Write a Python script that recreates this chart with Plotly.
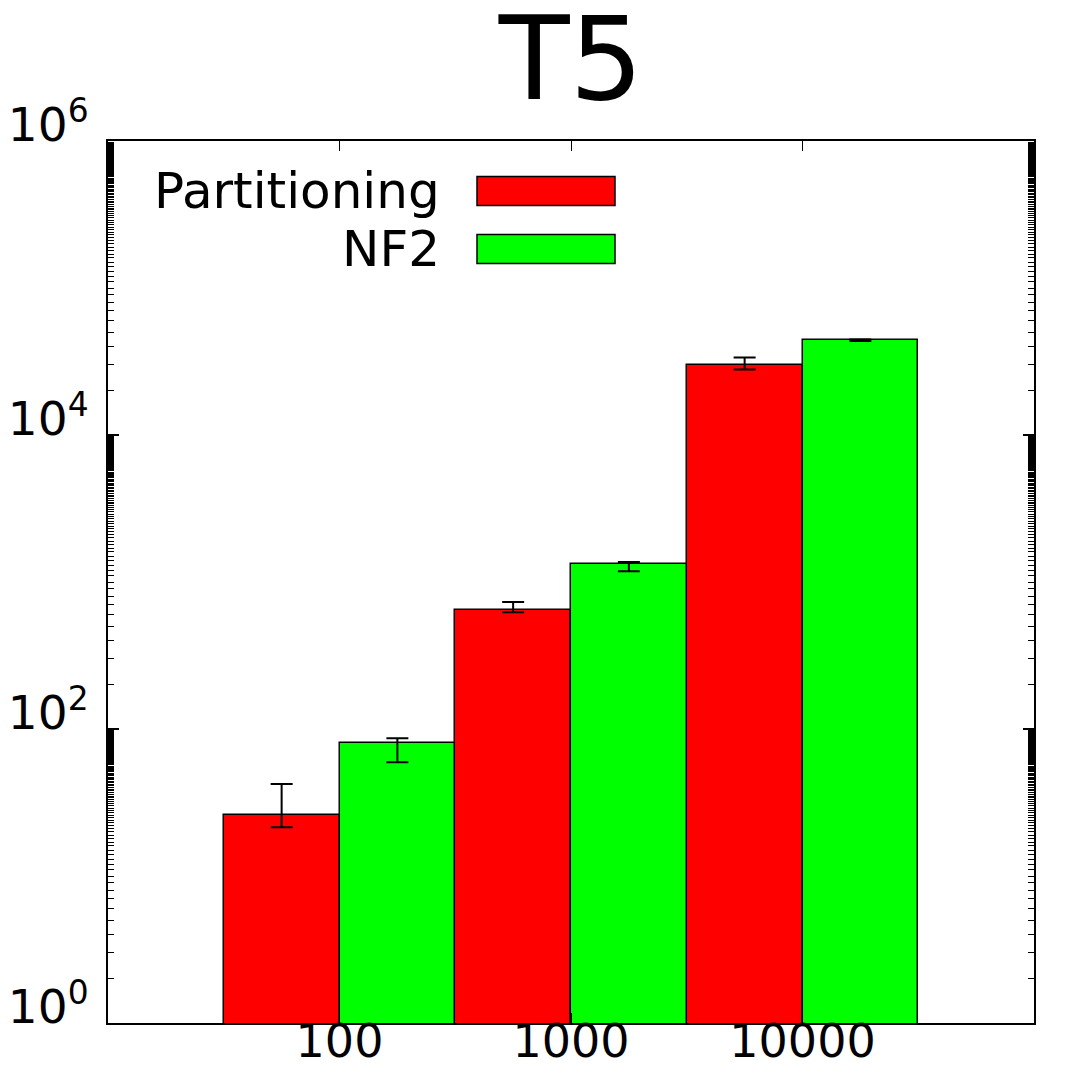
import plotly.graph_objects as go

# data
sizes = ["100", "1000", "10000"]
series_names = ["Partitioning", "NF2"]
series_colors = ["#FF0000", "#00FF00"]

part_mean = [25.9, 642, 29740]
part_high = [42.2, 731, 33700]
part_low = [21.5, 622, 27920]

nf2_mean = [80.0, 1319, 43970]
nf2_high = [86.6, 1368, 44600]
nf2_low = [59.5, 1182, 43600]

ytick_vals = [1, 100, 10000, 1000000]
ytick_text = ["10<sup>0</sup>", "10<sup>2</sup>", "10<sup>4</sup>", "10<sup>6</sup>"]

FONT = "DejaVu Sans"

# gnuplot-style minor tics: k * 100^n
minor_vals = [k * 100 ** n for n in range(3) for k in range(2, 100)]

means = [part_mean, nf2_mean]
highs = [part_high, nf2_high]
lows = [part_low, nf2_low]

fig = go.Figure()
for name, color, m, hi, lo in zip(series_names, series_colors, means, highs, lows):
    fig.add_trace(go.Bar(
        x=sizes, y=m, name=name,
        marker=dict(color=color, line=dict(color="black", width=1.5)),
        error_y=dict(type="data", symmetric=False,
                     array=[h - v for h, v in zip(hi, m)],
                     arrayminus=[v - l for l, v in zip(lo, m)],
                     color="black", thickness=2, width=11),
        showlegend=False,
    ))

# page body has an 8px margin, so the figure is 1072 and margins are shifted
W = H = 1072
OFF = 8
L, R, T, B = 108 - OFF, W + OFF - 1034, 141 - OFF, H + OFF - 1023
pw, ph = W - L - R, H - T - B

def px(x):
    return (x - OFF - L) / pw

def py(y):
    return (H + OFF - B - y) / ph

# legend drawn by hand: label on the left, swatch on the right
legend_rows = [191, 249]
for name, color, yc in zip(series_names, series_colors, legend_rows):
    fig.add_annotation(x=px(442), y=py(yc), xref="paper", yref="paper",
                       text=name, showarrow=False, xanchor="right", yanchor="middle",
                       font=dict(family=FONT, size=50, color="black"))
    fig.add_shape(type="rect", xref="paper", yref="paper",
                  x0=px(477), x1=px(615), y0=py(yc - 14.5), y1=py(yc + 14.5),
                  fillcolor=color, line=dict(color="black", width=1.5))

fig.update_layout(
    width=W, height=H, autosize=False,
    margin=dict(l=L, r=R, t=T, b=B, pad=0),
    paper_bgcolor="white", plot_bgcolor="white",
    barmode="group", bargap=0, bargroupgap=0,
    title=dict(text="T5", x=0.5, xref="paper", xanchor="center",
               y=1 - 50 / H, yref="container", yanchor="middle",
               font=dict(family=FONT, size=116, color="black")),
    font=dict(family=FONT, color="black"),
)

fig.update_xaxes(
    type="category", range=[-1, 3], automargin=False,
    showline=True, linecolor="black", linewidth=2, mirror="ticks",
    ticks="inside", ticklen=10, tickwidth=1, tickcolor="black",
    showgrid=False, zeroline=False,
    ticklabelstandoff=-23,
    tickfont=dict(family=FONT, size=46, color="black"),
)

fig.update_yaxes(
    type="log", range=[0, 6], automargin=False,
    tickmode="array", tickvals=ytick_vals, ticktext=ytick_text,
    showline=True, linecolor="black", linewidth=2, mirror="ticks",
    ticks="inside", ticklen=11, tickwidth=1.5, tickcolor="black",
    minor=dict(tickmode="array", tickvals=minor_vals, ticks="inside",
               ticklen=6, tickwidth=1, tickcolor="black", showgrid=False),
    showgrid=False, zeroline=False,
    ticklabelstandoff=8, ticklabelshift=-16,
    tickfont=dict(family=FONT, size=47, color="black"),
)

fig.write_html("out.html")
